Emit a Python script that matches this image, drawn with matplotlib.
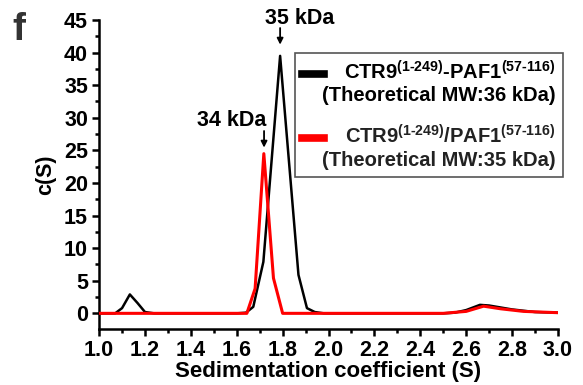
import matplotlib
matplotlib.use("Agg")
import matplotlib.pyplot as plt
from matplotlib.ticker import MultipleLocator

plt.rcParams['font.family'] = ['Liberation Sans', 'DejaVu Sans']
plt.rcParams['font.weight'] = 'bold'
plt.rcParams['mathtext.fontset'] = 'custom'
plt.rcParams['mathtext.rm'] = 'Liberation Sans:bold'
plt.rcParams['mathtext.bf'] = 'Liberation Sans:bold'
plt.rcParams['mathtext.default'] = 'rm'

# data
x_black = [1.0, 1.07, 1.10, 1.134, 1.167, 1.20, 1.24, 1.60, 1.64, 1.672, 1.716, 1.789,
           1.869, 1.906, 1.94, 1.98, 2.5, 2.55, 2.6, 2.66, 2.70, 2.8, 2.9, 3.0]
y_black = [0, 0, 0.8, 2.9, 1.6, 0.2, 0, 0, 0.1, 1.0, 7.9, 39.5,
           5.9, 0.8, 0.2, 0, 0, 0.1, 0.5, 1.3, 1.2, 0.6, 0.2, 0.1]
x_red = [1.0, 1.644, 1.68, 1.718, 1.76, 1.80, 2.5, 2.6, 2.676, 2.75, 2.85, 3.0]
y_red = [0, 0, 3.8, 24.5, 5.4, 0, 0, 0.3, 1.1, 0.7, 0.3, 0.1]

xticks = [1.0, 1.2, 1.4, 1.6, 1.8, 2.0, 2.2, 2.4, 2.6, 2.8, 3.0]
xticklabels = ['1.0', '1.2', '1.4', '1.6', '1.8', '2.0', '2.2', '2.4', '2.6', '2.8', '3.0']
yticks = [0, 5, 10, 15, 20, 25, 30, 35, 40, 45]
yticklabels = ['0', '5', '10', '15', '20', '25', '30', '35', '40', '45']

label_black = r"$\mathrm{CTR9}^{\text{(1-249)}}\text{-}\mathrm{PAF1}^{\text{(57-116)}}$" + "\n(Theoretical MW:36 kDa)"
label_red = r"$\mathrm{CTR9}^{\text{(1-249)}}\text{/}\mathrm{PAF1}^{\text{(57-116)}}$" + "\n(Theoretical MW:35 kDa)"

fig = plt.figure(figsize=(5.83, 3.85), dpi=100)
ax = fig.add_axes([0.170, 0.1455, 0.787, 0.8025])

ax.plot(x_black, y_black, color='black', lw=1.8, label=label_black, zorder=3)
ax.plot(x_red, y_red, color='#ff0000', lw=2.2, label=label_red, zorder=4)

ax.set_xlim(1.0, 3.0)
ax.set_ylim(-2.4, 45)
ax.xaxis.set_minor_locator(MultipleLocator(0.1))
ax.yaxis.set_minor_locator(MultipleLocator(2.5))
ax.set_xticks(xticks)
ax.set_xticklabels(xticklabels)
ax.set_yticks(yticks)
ax.set_yticklabels(yticklabels)

for s in ['top', 'right']:
    ax.spines[s].set_visible(False)
for s in ['left', 'bottom']:
    ax.spines[s].set_linewidth(1.8)
ax.tick_params(which='major', length=5, width=1.8, labelsize=15.5, pad=3)
ax.tick_params(which='minor', length=3, width=1.8)

ax.set_xlabel('Sedimentation coefficient (S)', fontsize=16, fontweight='bold', labelpad=0)
ax.set_ylabel('c(S)', fontsize=15.5, fontweight='bold', labelpad=6)

# annotations
ax.text(1.876, 45.3, '35 kDa', ha='center', va='center', fontsize=15.5, fontweight='bold', clip_on=False)
ax.annotate('', xy=(1.789, 40.8), xytext=(1.789, 44.2),
            arrowprops=dict(arrowstyle='-|>', color='black', lw=1.3, mutation_scale=9))
ax.text(1.58, 29.6, '34 kDa', ha='center', va='center', fontsize=15.5, fontweight='bold')
ax.annotate('', xy=(1.719, 25.0), xytext=(1.719, 28.4),
            arrowprops=dict(arrowstyle='-|>', color='black', lw=1.3, mutation_scale=9))

leg = ax.legend(loc='upper right', bbox_to_anchor=(0.9657, 0.862), bbox_transform=fig.transFigure,
                fancybox=False, framealpha=1, fontsize=14.5,
                handlelength=1.1, handletextpad=-0.1, labelspacing=0.95, borderpad=0.35,
                borderaxespad=0)
frame = leg.get_frame()
frame.set_edgecolor('#555555')
frame.set_linewidth(1.2)
frame.set_facecolor('white')
for ln in leg.get_lines():
    ln.set_linewidth(5.5)
    ln.set_ydata([v + 7.0 for v in ln.get_ydata()])
texts = leg.get_texts()
for t in texts:
    t.set_multialignment('right')
    t.set_fontweight('bold')
texts[1].set_color('#222222')

fig.text(0.022, 0.896, 'f', fontsize=28, fontweight='bold', color='#333333', va='baseline')

fig.savefig('out.png', dpi=100)
